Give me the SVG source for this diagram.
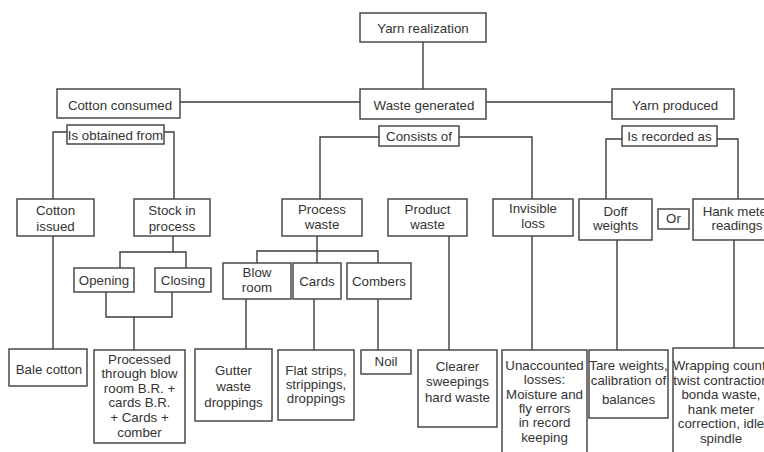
<svg xmlns="http://www.w3.org/2000/svg" width="764" height="452" viewBox="0 0 764 452">
<style>
.box{fill:#fff;stroke:#3d3d3d;stroke-width:1.4}
.ln{fill:none;stroke:#3d3d3d;stroke-width:1.4}
text{font-family:"Liberation Sans",Arial,sans-serif;font-size:13.3px;fill:#333;text-anchor:middle}
</style>
<rect width="764" height="452" fill="#fff"/>
<g id="connectors">
<path class="ln" d="M423 42V89"/>
<path class="ln" d="M180 102H360M486 102H612"/>
<path class="ln" d="M67 132H53V199M53 236V349M164 132H174V199"/>
<path class="ln" d="M173 236V252M120 268V252H186V268"/>
<path class="ln" d="M106 292V317H172V292M134 317V350"/>
<path class="ln" d="M379 137H320V199M459 137H532V199M532 236V350"/>
<path class="ln" d="M317 236V263M257 263V251H378V263"/>
<path class="ln" d="M246 299V349M314 299V350M378 299V350M449 236V350"/>
<path class="ln" d="M622 139H606V199M717 139H738V199M617 240V350M734 240V348"/>
</g>
<g id="yarn-realization"><rect class="box" x="360" y="13" width="126" height="29"/><text x="423" y="33">Yarn realization</text></g>
<g id="cotton-consumed"><rect class="box" x="57" y="89" width="123" height="29"/><text x="120" y="110">Cotton consumed</text></g>
<g id="waste-generated"><rect class="box" x="360" y="89" width="126" height="30"/><text x="424" y="110">Waste generated</text></g>
<g id="yarn-produced"><rect class="box" x="612" y="89" width="122" height="30"/><text x="675" y="110">Yarn produced</text></g>
<g id="is-obtained-from"><rect class="box" x="67" y="125" width="97" height="19"/><text x="115.5" y="140">Is obtained from</text></g>
<g id="consists-of"><rect class="box" x="379" y="126" width="80" height="20"/><text x="419" y="141">Consists of</text></g>
<g id="is-recorded-as"><rect class="box" x="622" y="126" width="95" height="20"/><text x="669.5" y="141">Is recorded as</text></g>
<g id="cotton-issued"><rect class="box" x="17" y="199" width="77" height="37"/><text x="55.5" y="215">Cotton</text><text x="55.5" y="231">issued</text></g>
<g id="stock-in-process"><rect class="box" x="134" y="199" width="76" height="37"/><text x="172" y="215">Stock in</text><text x="172" y="231">process</text></g>
<g id="opening"><rect class="box" x="74" y="268" width="60" height="24"/><text x="104" y="285">Opening</text></g>
<g id="closing"><rect class="box" x="155" y="268" width="56" height="24"/><text x="183" y="285">Closing</text></g>
<g id="process-waste"><rect class="box" x="282" y="199" width="80" height="37"/><text x="322" y="214">Process</text><text x="322" y="228.5">waste</text></g>
<g id="product-waste"><rect class="box" x="388" y="199" width="79" height="37"/><text x="427.5" y="214">Product</text><text x="427.5" y="228.5">waste</text></g>
<g id="invisible-loss"><rect class="box" x="493" y="199" width="80" height="37"/><text x="533" y="213">Invisible</text><text x="533" y="227.5">loss</text></g>
<g id="doff-weights"><rect class="box" x="579" y="199" width="73" height="41"/><text x="615.5" y="216">Doff</text><text x="615.5" y="230">weights</text></g>
<g id="or"><rect class="box" x="658" y="209" width="31" height="20"/><text x="673.5" y="223">Or</text></g>
<g id="hank-meter-readings"><rect class="box" x="693" y="199" width="100" height="41"/><text x="737" y="216">Hank meter</text><text x="737" y="230">readings</text></g>
<g id="blow-room"><rect class="box" x="223" y="263" width="68" height="36"/><text x="257" y="277">Blow</text><text x="257" y="291.5">room</text></g>
<g id="cards"><rect class="box" x="293" y="263" width="48" height="36"/><text x="317" y="286">Cards</text></g>
<g id="combers"><rect class="box" x="347" y="263" width="64" height="36"/><text x="379" y="286">Combers</text></g>
<g id="bale-cotton"><rect class="box" x="9" y="349" width="78" height="37"/><text x="49" y="374">Bale cotton</text></g>
<g id="processed"><rect class="box" x="94" y="350" width="91" height="93"/><text x="139.5" y="364">Processed</text><text x="139.5" y="378">through blow</text><text x="139.5" y="393">room B.R. +</text><text x="139.5" y="407">cards B.R.</text><text x="139.5" y="422">+ Cards +</text><text x="139.5" y="437">comber</text></g>
<g id="gutter"><rect class="box" x="195" y="349" width="77" height="72"/><text x="233.5" y="375">Gutter</text><text x="233.5" y="391">waste</text><text x="233.5" y="407">droppings</text></g>
<g id="flat-strips"><rect class="box" x="278" y="350" width="76" height="70"/><text x="316" y="375">Flat strips,</text><text x="316" y="389">strippings,</text><text x="316" y="403">droppings</text></g>
<g id="noil"><rect class="box" x="361" y="350" width="50" height="24"/><text x="386" y="366">Noil</text></g>
<g id="clearer"><rect class="box" x="418" y="350" width="79" height="77"/><text x="457.5" y="371">Clearer</text><text x="457.5" y="386">sweepings</text><text x="457.5" y="402">hard waste</text></g>
<g id="unaccounted"><rect class="box" x="502" y="350" width="85" height="110"/><text x="544.5" y="370">Unaccounted</text><text x="544.5" y="384">losses:</text><text x="544.5" y="399">Moisture and</text><text x="544.5" y="413">fly errors</text><text x="544.5" y="427">in record</text><text x="544.5" y="442">keeping</text></g>
<g id="tare-weights"><rect class="box" x="589" y="350" width="79" height="68"/><text x="628.5" y="370">Tare weights,</text><text x="628.5" y="385">calibration of</text><text x="628.5" y="404">balances</text></g>
<g id="wrapping"><rect class="box" x="673" y="348" width="120" height="112"/><text x="721" y="370">Wrapping count,</text><text x="721" y="385">twist contraction</text><text x="721" y="399">bonda waste,</text><text x="721" y="414">hank meter</text><text x="721" y="428">correction, idle</text><text x="721" y="443">spindle</text></g>
</svg>
